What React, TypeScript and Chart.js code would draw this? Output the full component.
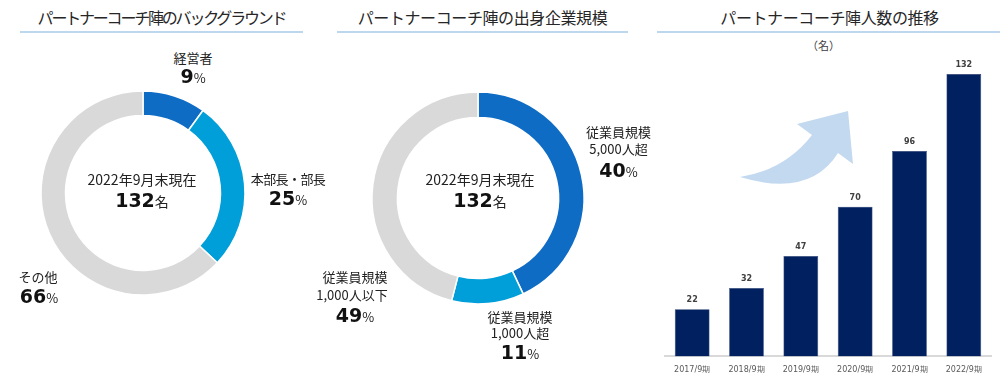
import React, { useEffect, useRef } from "react";
import { Chart, registerables } from "chart.js";

Chart.register(...registerables);

// ---- Data ----
const backgroundCategories = ["経営者", "本部長・部長", "その他"];
const backgroundShares = [10, 27, 63]; // arc sizes as drawn
const backgroundPercentLabels = ["9", "25", "66"];

const companyCategories = ["従業員規模 5,000人超", "従業員規模 1,000人超", "従業員規模 1,000人以下"];
const companyShares = [43, 11, 46]; // arc sizes as drawn
const companyPercentLabels = ["40", "11", "49"];

const totalCoaches = "132";
const asOfLabel = "2022年9月末現在";

const periods = ["2017/9期", "2018/9期", "2019/9期", "2020/9期", "2021/9期", "2022/9期"];
const coachCounts = [22, 32, 47, 70, 96, 132];

const titles = ["パートナーコーチ陣のバックグラウンド", "パートナーコーチ陣の出身企業規模", "パートナーコーチ陣人数の推移"];

// ---- Styles ----
const ringColors = ["#0F6CC4", "#009FD9", "#D9D9D9"];
const barColor = "#002060";
const JP = "'Noto Sans CJK JP', 'Noto Sans', sans-serif";
const NUM = "'DejaVu Sans', Verdana, sans-serif";
const TEXT = "#222222";

type TProps = { x: number; y: number; size: number; children: React.ReactNode; ls?: number; color?: string };
function T({ x, y, size, children, ls = 0, color = TEXT }: TProps) {
  const lh = Math.round(size * 1.3);
  return (
    <div
      style={{
        position: "absolute",
        left: x - 200,
        width: 400,
        top: y - lh / 2,
        height: lh,
        lineHeight: lh + "px",
        fontSize: size,
        fontFamily: JP,
        color,
        textAlign: "center",
        whiteSpace: "nowrap",
        letterSpacing: ls,
      }}
    >
      {children}
    </div>
  );
}

function Pct({ x, y, value }: { x: number; y: number; value: string }) {
  return (
    <div
      style={{
        position: "absolute",
        left: x - 100,
        width: 200,
        top: y - 13,
        height: 26,
        lineHeight: "26px",
        textAlign: "center",
        whiteSpace: "nowrap",
        color: "#111",
      }}
    >
      <span style={{ fontFamily: NUM, fontWeight: "bold", fontSize: 19 }}>{value}</span>
      <span style={{ fontFamily: JP, fontSize: 13, color: TEXT }}>%</span>
    </div>
  );
}

function Count({ x, y }: { x: number; y: number }) {
  return (
    <div
      style={{
        position: "absolute",
        left: x - 100,
        width: 200,
        top: y - 14,
        height: 28,
        lineHeight: "28px",
        textAlign: "center",
        whiteSpace: "nowrap",
        color: "#111",
      }}
    >
      <span style={{ fontFamily: NUM, fontWeight: "bold", fontSize: 19 }}>{totalCoaches}</span>
      <span style={{ fontFamily: JP, fontSize: 14, color: TEXT }}>名</span>
    </div>
  );
}

function Ring({
  labels,
  values,
  cx,
  cy,
  radius,
  cutout,
}: {
  labels: string[];
  values: number[];
  cx: number;
  cy: number;
  radius: number;
  cutout: string;
}) {
  const ref = useRef<HTMLCanvasElement>(null);
  const size = 230;
  useEffect(() => {
    const chart = new Chart(ref.current!, {
      type: "doughnut",
      data: {
        labels,
        datasets: [
          {
            data: values,
            backgroundColor: ringColors,
            borderColor: "#ffffff",
            borderWidth: 1.5,
            hoverOffset: 0,
          },
        ],
      },
      options: {
        responsive: false,
        animation: false,
        events: [],
        radius,
        cutout,
        layout: { padding: 0 },
        plugins: { legend: { display: false }, tooltip: { enabled: false } },
      } as any,
    });
    return () => chart.destroy();
  }, []);
  return (
    <canvas
      ref={ref}
      width={size}
      height={size}
      style={{ position: "absolute", left: cx - size / 2, top: cy - size / 2, width: size, height: size }}
    />
  );
}

const valueLabelPlugin = {
  id: "valueLabels",
  afterDatasetsDraw(chart: any) {
    const ctx = chart.ctx;
    const meta = chart.getDatasetMeta(0);
    ctx.save();
    ctx.font = `bold 8px ${NUM}`;
    ctx.fillStyle = "#404040";
    ctx.textAlign = "center";
    ctx.textBaseline = "middle";
    meta.data.forEach((bar: any, i: number) => {
      ctx.fillText(String(coachCounts[i]), bar.x, bar.y - 9);
    });
    ctx.restore();
  },
};

function Bars() {
  const ref = useRef<HTMLCanvasElement>(null);
  useEffect(() => {
    const chart = new Chart(ref.current!, {
      type: "bar",
      data: {
        labels: periods,
        datasets: [
          {
            data: coachCounts,
            backgroundColor: barColor,
            borderColor: "#24386E",
            borderWidth: 0.6,
            barPercentage: 0.64,
            categoryPercentage: 1,
          },
        ],
      },
      options: {
        responsive: false,
        animation: false,
        events: [],
        layout: { padding: { left: 5, right: 9, top: 17, bottom: 0 } },
        plugins: { legend: { display: false }, tooltip: { enabled: false } },
        scales: {
          y: { display: false, min: 0, max: 140 },
          x: {
            offset: true,
            grid: { display: false, drawTicks: false },
            border: { display: true, color: "#D9D9D9", width: 2 },
            ticks: {
              padding: 9,
              maxRotation: 0,
              autoSkip: false,
              color: "#595959",
              font: { size: 8, family: NUM },
            },
          },
        },
      } as any,
      plugins: [valueLabelPlugin],
    });
    return () => chart.destroy();
  }, []);
  return (
    <canvas
      ref={ref}
      width={340}
      height={344}
      style={{ position: "absolute", left: 660, top: 40, width: 340, height: 344 }}
    />
  );
}

function Rule({ x1, x2 }: { x1: number; x2: number }) {
  return (
    <div style={{ position: "absolute", left: x1, width: x2 - x1, top: 31, height: 1.5, background: "#BDD7EE" }} />
  );
}

export default function App() {
  return (
    <div
      style={{
        position: "absolute",
        left: 0,
        top: 0,
        width: 1000,
        height: 379,
        background: "#ffffff",
        overflow: "hidden",
      }}
    >
      {/* Titles */}
      <T x={161.5} y={17} size={16} ls={-2.2} color="#262626">{titles[0]}</T>
      <T x={482.5} y={17} size={16} ls={-0.4} color="#262626">{titles[1]}</T>
      <T x={829.5} y={17} size={16} ls={-0.4} color="#262626">{titles[2]}</T>
      <Rule x1={20} x2={303} />
      <Rule x1={337} x2={628} />
      <Rule x1={657} x2={1000} />

      {/* Panel 1 */}
      <Ring labels={backgroundCategories} values={backgroundShares} cx={143} cy={192.5} radius={102} cutout="76%" />
      <T x={142} y={179} size={14}>{asOfLabel}</T>
      <Count x={142} y={200} />
      <T x={193} y={57} size={13}>{backgroundCategories[0]}</T>
      <Pct x={193} y={76} value={backgroundPercentLabels[0]} />
      <T x={288} y={178} size={13} ls={-0.6}>{backgroundCategories[1]}</T>
      <Pct x={288} y={198} value={backgroundPercentLabels[1]} />
      <T x={38} y={276} size={13}>{backgroundCategories[2]}</T>
      <Pct x={39} y={296} value={backgroundPercentLabels[2]} />

      {/* Panel 2 */}
      <Ring labels={companyCategories} values={companyShares} cx={478} cy={197.5} radius={106} cutout="76%" />
      <T x={480} y={179} size={14}>{asOfLabel}</T>
      <Count x={480} y={200} />
      <T x={618.5} y={131} size={13}>{companyCategories[0].split(" ")[0]}</T>
      <T x={618.5} y={148} size={13}>{companyCategories[0].split(" ")[1]}</T>
      <Pct x={618.5} y={170} value={companyPercentLabels[0]} />
      <T x={520} y={316} size={13}>{companyCategories[1].split(" ")[0]}</T>
      <T x={520} y={332} size={13}>{companyCategories[1].split(" ")[1]}</T>
      <Pct x={520} y={352} value={companyPercentLabels[1]} />
      <T x={355} y={276} size={13}>{companyCategories[2].split(" ")[0]}</T>
      <T x={352} y={294} size={13}>{companyCategories[2].split(" ")[1]}</T>
      <Pct x={355} y={314.5} value={companyPercentLabels[2]} />

      {/* Panel 3 */}
      <T x={823.5} y={45} size={11} color="#404040">（名）</T>
      <svg
        width={1000}
        height={379}
        style={{ position: "absolute", left: 0, top: 0, pointerEvents: "none" }}
      >
        <path
          d="M740,177 Q785,170 812,135 L797,124 L848,111 L853,164 L838,153 Q810,198 740,177 Z"
          fill="#C3D9F0"
        />
      </svg>
      <Bars />
    </div>
  );
}
